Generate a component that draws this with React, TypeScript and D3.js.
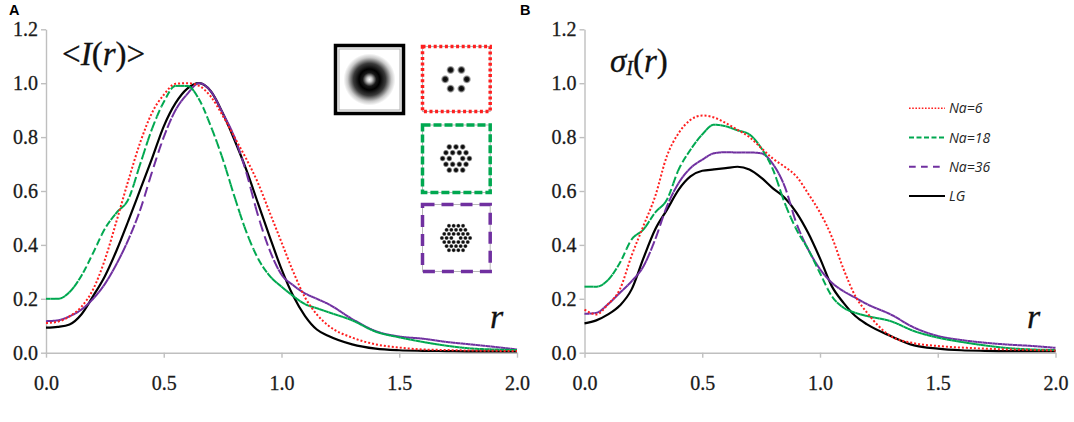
import React, { useRef, useEffect } from 'react';
import * as d3 from 'd3';

// r grid shared by all curves
const rValues = [
  0, 0.05, 0.1, 0.15, 0.2, 0.25, 0.3, 0.35, 0.4, 0.45, 0.5, 0.55, 0.6, 0.65, 0.7, 0.75,
  0.8, 0.85, 0.9, 0.95, 1.0, 1.05, 1.1, 1.15, 1.2, 1.3, 1.4, 1.5, 1.6, 1.7, 1.8, 1.9, 2.0,
];

// panel A: <I(r)>
const meanNa6 = [0.11, 0.115, 0.135, 0.17, 0.235, 0.345, 0.49, 0.64, 0.78, 0.89, 0.957, 0.998, 1.0, 0.99, 0.95, 0.88, 0.8, 0.72, 0.63, 0.52, 0.41, 0.3, 0.205, 0.142, 0.1, 0.056, 0.031, 0.019, 0.012, 0.01, 0.008, 0.007, 0.006];
const meanNa18 = [0.2, 0.2, 0.225, 0.285, 0.37, 0.46, 0.52, 0.57, 0.7, 0.83, 0.93, 0.99, 0.99, 0.94, 0.84, 0.72, 0.58, 0.45, 0.35, 0.285, 0.245, 0.21, 0.18, 0.165, 0.15, 0.12, 0.078, 0.057, 0.04, 0.026, 0.016, 0.012, 0.01];
const meanNa36 = [0.117, 0.12, 0.135, 0.16, 0.2, 0.255, 0.33, 0.42, 0.53, 0.67, 0.8, 0.9, 0.96, 1.0, 0.97, 0.89, 0.8, 0.67, 0.51, 0.38, 0.29, 0.25, 0.22, 0.2, 0.18, 0.125, 0.08, 0.06, 0.052, 0.04, 0.031, 0.022, 0.012];
const meanLG = [0.093, 0.096, 0.105, 0.142, 0.21, 0.284, 0.38, 0.49, 0.605, 0.72, 0.84, 0.926, 0.98, 1.0, 0.97, 0.89, 0.79, 0.68, 0.555, 0.43, 0.31, 0.21, 0.136, 0.086, 0.062, 0.031, 0.015, 0.009, 0.007, 0.006, 0.005, 0.005, 0.005];

// panel B: sigma_I(r)
const sigmaNa6 = [0.16, 0.142, 0.18, 0.235, 0.36, 0.47, 0.58, 0.73, 0.815, 0.864, 0.88, 0.873, 0.852, 0.827, 0.8, 0.76, 0.72, 0.69, 0.654, 0.59, 0.52, 0.43, 0.31, 0.21, 0.148, 0.062, 0.035, 0.025, 0.019, 0.015, 0.012, 0.01, 0.008];
const sigmaNa18 = [0.245, 0.245, 0.27, 0.333, 0.42, 0.457, 0.52, 0.568, 0.68, 0.753, 0.81, 0.846, 0.84, 0.825, 0.81, 0.76, 0.68, 0.556, 0.457, 0.383, 0.295, 0.21, 0.167, 0.148, 0.136, 0.117, 0.08, 0.056, 0.04, 0.027, 0.017, 0.012, 0.01];
const sigmaNa36 = [0.144, 0.148, 0.18, 0.222, 0.265, 0.32, 0.42, 0.543, 0.63, 0.685, 0.716, 0.74, 0.744, 0.743, 0.743, 0.74, 0.7, 0.617, 0.48, 0.383, 0.31, 0.26, 0.228, 0.204, 0.18, 0.142, 0.093, 0.062, 0.047, 0.037, 0.03, 0.025, 0.018];
const sigmaLG = [0.109, 0.12, 0.142, 0.175, 0.235, 0.35, 0.457, 0.53, 0.605, 0.654, 0.675, 0.68, 0.685, 0.69, 0.68, 0.65, 0.61, 0.575, 0.52, 0.444, 0.35, 0.247, 0.185, 0.136, 0.105, 0.062, 0.027, 0.015, 0.009, 0.007, 0.006, 0.006, 0.006];

const yTicks = [0, 0.2, 0.4, 0.6, 0.8, 1.0, 1.2];
const xTicks = [0, 0.5, 1.0, 1.5, 2.0];
const seriesNames = ['Na=6', 'Na=18', 'Na=36', 'LG'];

const RED = '#ff1f1f';
const GREEN = '#00a850';
const PURPLE = '#7030a0';
const BLACK = '#000000';

const lineStyles: Record<string, { color: string; dash: string | null; legendDash: string | null; width: number; legendWidth: number; chunk: boolean }> = {
  'Na=6': { color: RED, dash: '2,2', legendDash: '1.6,1.6', width: 2, legendWidth: 1.6, chunk: false },
  'Na=18': { color: GREEN, dash: '7,3', legendDash: '5,2.5', width: 2, legendWidth: 2, chunk: true },
  'Na=36': { color: PURPLE, dash: '10,5', legendDash: '6.7,5.3', width: 2, legendWidth: 2, chunk: true },
  LG: { color: BLACK, dash: null, legendDash: null, width: 2.2, legendWidth: 2.2, chunk: false },
};

const SERIF = "'Liberation Serif', 'DejaVu Serif', 'Times New Roman', serif";
const SANS = "'Liberation Sans', Arial, sans-serif";
const LEGEND_FONT = "'Open Sans', 'Liberation Sans', sans-serif";
const AXIS_GRAY = '#bfbfbf';

const Y0 = 352.7;
const Y1 = 29.3;

const panels = [
  { x0: 46, x1: 517, data: { 'Na=6': meanNa6, 'Na=18': meanNa18, 'Na=36': meanNa36, LG: meanLG } as Record<string, number[]> },
  { x0: 584.5, x1: 1055.5, data: { 'Na=6': sigmaNa6, 'Na=18': sigmaNa18, 'Na=36': sigmaNa36, LG: sigmaLG } as Record<string, number[]> },
];

// Excel restarts the dash pattern at every data point, so flat parts look solid.
// Split the drawn curve into short x-steps, each with its own dash phase.
function drawChunked(g: d3.Selection<SVGGElement, unknown, null, undefined>, d: string, color: string, dash: string, width: number) {
  const tmp = g.append('path').attr('d', d).attr('fill', 'none').attr('stroke', 'none');
  const node = tmp.node() as SVGPathElement;
  const total = node.getTotalLength();
  const pts: [number, number][] = [];
  for (let l = 0; l < total; l += 0.5) {
    const p = node.getPointAtLength(l);
    pts.push([p.x, p.y]);
  }
  const last = node.getPointAtLength(total);
  pts.push([last.x, last.y]);
  tmp.remove();

  const step = 4.5;
  let chunk: [number, number][] = [pts[0]];
  let startX = pts[0][0];
  const chunks: [number, number][][] = [];
  for (let i = 1; i < pts.length; i++) {
    chunk.push(pts[i]);
    if (pts[i][0] - startX >= step) {
      chunks.push(chunk);
      chunk = [pts[i]];
      startX = pts[i][0];
    }
  }
  if (chunk.length > 1) chunks.push(chunk);

  const line = d3.line();
  chunks.forEach(c => {
    g.append('path')
      .attr('d', line(c))
      .attr('fill', 'none')
      .attr('stroke', color)
      .attr('stroke-width', width)
      .attr('stroke-dasharray', dash);
  });
}

const hexLattice = (n: number, s: number) => {
  const pts: [number, number][] = [];
  for (let q = -n; q <= n; q++) {
    for (let r = -n; r <= n; r++) {
      if (Math.abs(q + r) > n || (q === 0 && r === 0)) continue;
      pts.push([s * (q + r / 2), s * (Math.sqrt(3) / 2) * r]);
    }
  }
  return pts;
};

const ringDots = d3.range(6).map(i => [10.8 * Math.cos((i * Math.PI) / 3), 10.8 * Math.sin((i * Math.PI) / 3)] as [number, number]);

const App: React.FC = () => {
  const ref = useRef<SVGGElement>(null);

  useEffect(() => {
    const root = d3.select(ref.current);
    root.selectAll('*').remove();

    const y = d3.scaleLinear().domain([0, 1.2]).range([Y0, Y1]);

    panels.forEach(panel => {
      const x = d3.scaleLinear().domain([0, 2]).range([panel.x0, panel.x1]);
      const g = root.append('g');

      const yAxis = g.append('g')
        .attr('transform', `translate(${panel.x0},0)`)
        .call(d3.axisLeft(y).tickValues(yTicks).tickFormat(d3.format('.1f')).tickSize(5).tickSizeOuter(0).tickPadding(3));
      const xAxis = g.append('g')
        .attr('transform', `translate(0,${Y0})`)
        .call(d3.axisBottom(x).tickValues(xTicks).tickFormat(d3.format('.1f')).tickSize(5).tickSizeOuter(0));

      [yAxis, xAxis].forEach(a => {
        a.attr('font-family', null).attr('font-size', null);
        a.select('.domain').attr('stroke', AXIS_GRAY).attr('stroke-width', 1.4);
        a.selectAll('.tick line').attr('stroke', AXIS_GRAY).attr('stroke-width', 1.4);
        a.selectAll('.tick text')
          .attr('fill', '#1a1a1a')
          .attr('stroke', '#1a1a1a')
          .attr('stroke-width', 0.3)
          .attr('font-family', SERIF)
          .attr('font-size', 20);
      });
      xAxis.selectAll('.tick text').attr('y', 37.3).attr('dy', 0);

      const line = d3.line<number>()
        .x((_, i) => x(rValues[i]))
        .y(v => y(v))
        .curve(d3.curveMonotoneX);

      ['LG', 'Na=36', 'Na=18', 'Na=6'].forEach(name => {
        const st = lineStyles[name];
        const d = line(panel.data[name]) as string;
        if (st.chunk && st.dash) {
          drawChunked(g, d, st.color, st.dash, st.width);
        } else {
          g.append('path')
            .attr('d', d)
            .attr('fill', 'none')
            .attr('stroke', st.color)
            .attr('stroke-width', st.width)
            .attr('stroke-dasharray', st.dash);
        }
      });
    });

    // legend (panel B)
    const leg = root.append('g');
    const legY = d3.scalePoint<string>().domain(seriesNames).range([108.3, 196]);
    seriesNames.forEach(name => {
      const st = lineStyles[name];
      leg.append('line')
        .attr('x1', 909).attr('x2', 945)
        .attr('y1', legY(name)!).attr('y2', legY(name)!)
        .attr('stroke', st.color)
        .attr('stroke-width', st.legendWidth)
        .attr('stroke-dasharray', st.legendDash);
      leg.append('text')
        .attr('x', 949)
        .attr('y', legY(name)! + 5)
        .attr('fill', '#262626')
        .attr('font-family', LEGEND_FONT)
        .attr('font-style', 'italic')
        .attr('font-size', 14)
        .text(name);
    });
  }, []);

  const spot = (cx: number, cy: number, r: number, k: string) => (
    <circle key={k} cx={cx} cy={cy} r={r} fill="url(#spot)" />
  );

  return (
    <svg width={1074} height={422} style={{ position: 'absolute', left: 0, top: 0, background: '#fff' }}>
      <defs>
        <radialGradient id="donut">
          <stop offset="0" stopColor="#ffffff" />
          <stop offset="0.1" stopColor="#c8c8c8" />
          <stop offset="0.26" stopColor="#1a1a1a" />
          <stop offset="0.4" stopColor="#000000" />
          <stop offset="0.62" stopColor="#3a3a3a" />
          <stop offset="0.84" stopColor="#c8c8c8" />
          <stop offset="1" stopColor="#ffffff" />
        </radialGradient>
        <radialGradient id="spot">
          <stop offset="0" stopColor="#000" stopOpacity="1" />
          <stop offset="0.5" stopColor="#111" stopOpacity="0.95" />
          <stop offset="1" stopColor="#555" stopOpacity="0" />
        </radialGradient>
      </defs>
      <rect width={1074} height={422} fill="#fff" />

      {/* panel letters */}
      <text x={9} y={15} fontFamily={SANS} fontWeight="bold" fontSize={14.5}>A</text>
      <text x={520} y={15} fontFamily={SANS} fontWeight="bold" fontSize={14.5}>B</text>

      {/* titles */}
      <text x={62} y={65} fontFamily={SERIF} fontSize={33} fill="#111" stroke="#111" strokeWidth={0.3}>
        {'<'}<tspan fontStyle="italic">I</tspan>(<tspan fontStyle="italic">r</tspan>){'>'}
      </text>
      <text x={610} y={71.5} fontFamily={SERIF} fontSize={33} fill="#111" stroke="#111" strokeWidth={0.3}>
        <tspan fontStyle="italic">σ</tspan>
        <tspan fontStyle="italic" fontSize={20} dy={3}>I</tspan>
        <tspan dy={-3}>(</tspan>
        <tspan fontStyle="italic">r</tspan>)
      </text>
      <text x={490} y={328} fontFamily={SERIF} fontSize={34} fontStyle="italic" fill="#111" stroke="#111" strokeWidth={0.3}>r</text>
      <text x={1027} y={328} fontFamily={SERIF} fontSize={34} fontStyle="italic" fill="#111" stroke="#111" strokeWidth={0.3}>r</text>

      {/* inset images */}
      <g>
        <rect x={335.5} y={45.5} width={68} height={68} fill="#fff" stroke="#000" strokeWidth={3.5} />
        <rect x={339} y={49} width={61} height={61} fill="none" stroke="#b0b0b0" strokeWidth={1} />
        <circle cx={369.5} cy={79.5} r={26} fill="url(#donut)" />

        <rect x={422.5} y={46.5} width={67.7} height={65} fill="#fff" stroke="#b8b8b8" strokeWidth={1} />
        <rect x={422.5} y={46.5} width={67.7} height={65} fill="none" stroke={RED} strokeWidth={3.5} strokeDasharray="3,2.6" />
        {ringDots.map((p, i) => spot(456 + p[0], 79.3 + p[1], 4.5, `r${i}`))}

        <rect x={422.5} y={125} width={67.7} height={67.5} fill="#fff" stroke="#b8b8b8" strokeWidth={1} />
        <rect x={422.5} y={125} width={67.7} height={67.5} fill="none" stroke={GREEN} strokeWidth={3.5} strokeDasharray="8,3" />
        {hexLattice(2, 6.7).map((p, i) => spot(456 + p[0], 158.5 + p[1], 3.3, `g${i}`))}

        <rect x={422.5} y={204.5} width={67.7} height={67} fill="#fff" stroke="#b8b8b8" strokeWidth={1} />
        <rect x={422.5} y={204.5} width={67.7} height={67} fill="none" stroke={PURPLE} strokeWidth={3.5} strokeDasharray="12,7" />
        {hexLattice(3, 4.7).map((p, i) => spot(456 + p[0], 238 + p[1], 2.5, `p${i}`))}
      </g>

      <g ref={ref} />
    </svg>
  );
};

export default App;
